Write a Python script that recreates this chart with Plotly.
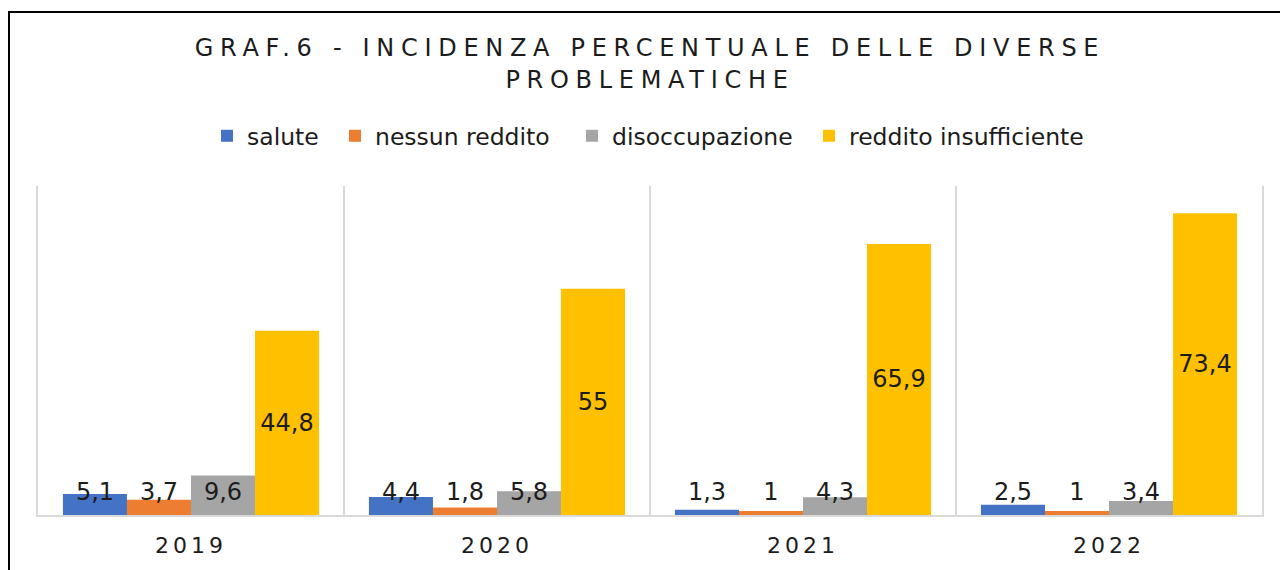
import plotly.graph_objects as go

# ---------------- data ----------------
years = ["2019", "2020", "2021", "2022"]
salute = [5.1, 4.4, 1.3, 2.5]
nessun_reddito = [3.7, 1.8, 1, 1]
disoccupazione = [9.6, 5.8, 4.3, 3.4]
reddito_insufficiente = [44.8, 55, 65.9, 73.4]

series_names = ["salute", "nessun reddito", "disoccupazione", "reddito insufficiente"]
series_values = [salute, nessun_reddito, disoccupazione, reddito_insufficiente]
title_text = "GRAF.6 - INCIDENZA PERCENTUALE DELLE DIVERSE<br>PROBLEMATICHE"

# ---------------- style ----------------
colors = ["#4472C4", "#ED7D31", "#A5A5A5", "#FFC000"]
FONT = "DejaVu Sans"
TXT = "#1c1c1c"
LABEL_BAND = 11.2  # height (in axis units) of the transparent band used to place small labels
legend_text_px = [245, 373, 610, 847]  # where each legend entry's text starts (pixels)

def fmt(v):
    return f"{v:g}".replace(".", ",")

W, H = 1280, 570
L, R, T, B = 38, 18, 186, 55
pw, ph = W - L - R, H - T - B

def px_x(p):
    return (p - L) / pw

def px_y(p):
    return (H - B - p) / ph

fig = go.Figure()

legend_keys = ["legend", "legend2", "legend3", "legend4"]

for i, (name, vals) in enumerate(zip(series_names, series_values)):
    big = i == 3
    fig.add_trace(go.Bar(
        name=name, x=years, y=vals,
        marker=dict(color=colors[i], line=dict(width=0)),
        offsetgroup=str(i),
        legend=legend_keys[i],
        text=[fmt(v) for v in vals] if big else None,
        textposition="inside" if big else "none",
        insidetextanchor="middle",
        insidetextfont=dict(family=FONT, size=24, color=TXT),
        hoverinfo="skip",
    ))

# transparent bands carrying the labels of the small bars (fixed height above the base)
for i in range(3):
    vals = series_values[i]
    fig.add_trace(go.Bar(
        x=years, y=[LABEL_BAND] * len(vals),
        offsetgroup=str(i), showlegend=False,
        marker=dict(color="rgba(0,0,0,0)", line=dict(width=0)),
        text=[fmt(v) for v in vals],
        textposition="inside", insidetextanchor="middle",
        constraintext="none",
        insidetextfont=dict(family=FONT, size=24, color=TXT),
        hoverinfo="skip",
    ))

legends = {}
for i, key in enumerate(legend_keys):
    legends[key] = dict(
        orientation="h", x=px_x(legend_text_px[i] - 38), xanchor="left",
        y=px_y(136), yanchor="middle",
        font=dict(family=FONT, size=23.5, color=TXT),
        bgcolor="rgba(0,0,0,0)",
    )

fig.update_layout(
    width=W, height=H,
    margin=dict(l=L, r=R, t=T, b=B, autoexpand=False),
    paper_bgcolor="white", plot_bgcolor="white",
    barmode="group", bargap=0.163, bargroupgap=0,
    font=dict(family=FONT, color=TXT),
    title=dict(
        text=title_text, x=0.5, xref="paper", xanchor="center",
        y=0.901, yref="container", yanchor="top",
        font=dict(family=FONT, size=24, color=TXT),
    ),
    xaxis=dict(
        type="category", tickson="boundaries", showgrid=True,
        gridcolor="#d9d9d9", gridwidth=1.5,
        showline=True, linecolor="#d9d9d9", linewidth=1.5,
        ticks="", ticklabelstandoff=10, automargin=False,
        tickfont=dict(family=FONT, size=22, color=TXT),
        range=[-0.5, 3.5], fixedrange=True,
    ),
    yaxis=dict(
        range=[0, 80], showgrid=False, zeroline=False,
        showticklabels=False, fixedrange=True, automargin=False,
        showline=True, mirror=True, linecolor="#d9d9d9", linewidth=1.5,
    ),
    shapes=[dict(
        type="rect", xref="paper", yref="paper",
        x0=px_x(9), x1=1.2, y0=px_y(12), y1=-0.4,
        line=dict(color="black", width=2), fillcolor="rgba(0,0,0,0)",
        layer="above",
    )],
    showlegend=True,
    **legends,
)

post = """
var s=document.createElement('style');
s.textContent='html,body{margin:0 !important;padding:0 !important;overflow:hidden;} .gtitle{letter-spacing:6.7px !important;} .xtick text{letter-spacing:4px !important;}';
document.head.appendChild(s);
"""

fig.write_html("out.html", post_script=post, config={"displayModeBar": False})
